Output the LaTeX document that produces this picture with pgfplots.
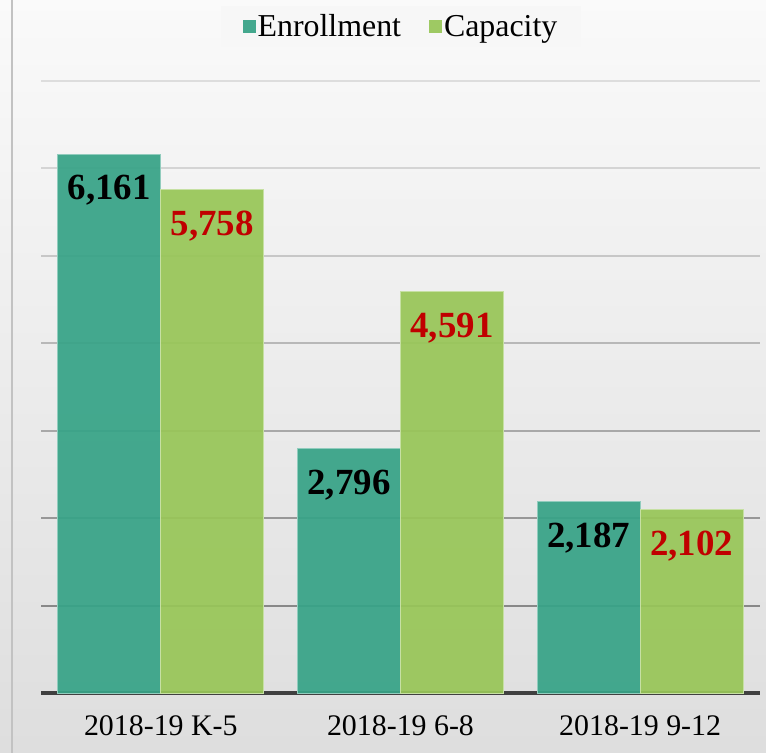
\documentclass[border=0pt]{standalone}
\usepackage{pgfplots}
\pgfplotsset{compat=1.18}
\usepackage{fontspec}
\setmainfont{Liberation Serif}
\definecolor{enr}{HTML}{37A387}
\definecolor{cap}{HTML}{98C658}
\definecolor{lab}{HTML}{C00000}
\begin{document}
\begin{tikzpicture}
\useasboundingbox (0bp,0bp) rectangle (766bp,753bp);
\shade[top color=black!2, bottom color=black!13] (0bp,0bp) rectangle (766bp,753bp);
\fill[black!24] (10.5bp,0bp) rectangle (12.5bp,753bp);
\begin{axis}[
  at={(41bp,60bp)}, anchor=south west,
  scale only axis, width=719bp, height=615bp,
  xmin=-0.5, xmax=2.5, ymin=0, ymax=7030,
  axis x line=bottom, axis y line=none,
  x axis line style={-, draw=black!75, line width=4bp},
  major tick length=0pt,
  xtick={0,1,2},
  xticklabels={2018-19 K-5, 2018-19 6-8, 2018-19 9-12},
  xticklabel style={font=\fontsize{30}{34}\selectfont, inner sep=0pt, yshift=-22bp},
  /pgf/number format/assume math mode=true,
  /pgf/number format/1000 sep={,},
  bar width=0.43,
  nodes near coords,
  every node near coord/.append style={anchor=north, inner sep=0pt, yshift=-21bp, font=\fontsize{37}{42}\selectfont\bfseries},
  legend columns=2,
  legend style={at={(axis description cs:0.5007,1.084)}, anchor=center, fill=black!3, draw=none,
    font=\fontsize{32}{36}\selectfont, inner xsep=22bp, inner ysep=7bp,
    /tikz/every even column/.append style={column sep=26bp}},
  legend image code/.code={\fill[#1,draw=none] (0bp,-6.5bp) rectangle (13bp,6.5bp);},
  clip=false,
]
\draw[black, opacity=0.40, line width=2bp] (axis cs:-0.5,1000) -- (axis cs:2.5,1000);
\draw[black, opacity=0.34, line width=2bp] (axis cs:-0.5,2000) -- (axis cs:2.5,2000);
\draw[black, opacity=0.28, line width=2bp] (axis cs:-0.5,3000) -- (axis cs:2.5,3000);
\draw[black, opacity=0.22, line width=2bp] (axis cs:-0.5,4000) -- (axis cs:2.5,4000);
\draw[black, opacity=0.17, line width=2bp] (axis cs:-0.5,5000) -- (axis cs:2.5,5000);
\draw[black, opacity=0.13, line width=2bp] (axis cs:-0.5,6000) -- (axis cs:2.5,6000);
\draw[black, opacity=0.10, line width=2bp] (axis cs:-0.5,7000) -- (axis cs:2.5,7000);
\addplot[ybar, bar shift=-0.215, fill=enr, fill opacity=0.93, draw=enr!55!white, line width=1bp,
  every node near coord/.append style={color=black, text opacity=1, xshift=-51.5bp}]
  coordinates {(0,6161) (1,2796) (2,2187)};
\addlegendentry{Enrollment}
\addplot[ybar, bar shift=0.215, fill=cap, fill opacity=0.93, draw=cap!55!white, line width=1bp,
  every node near coord/.append style={color=lab, text opacity=1, xshift=51.5bp}]
  coordinates {(0,5758) (1,4591) (2,2102)};
\addlegendentry{Capacity}
\end{axis}
\end{tikzpicture}
\end{document}
